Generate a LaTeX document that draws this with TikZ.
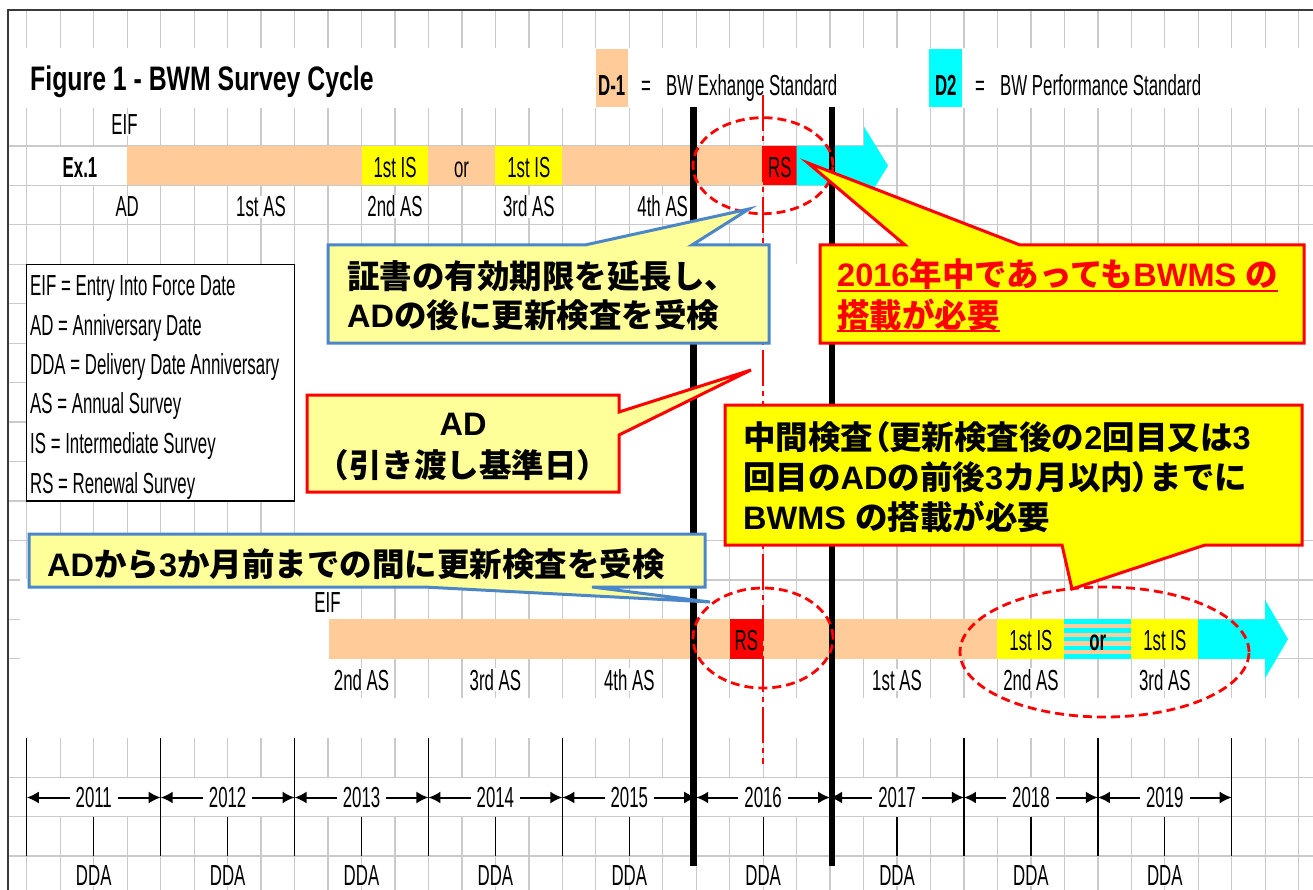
\documentclass[tikz,border=0pt]{standalone}
\usepackage{fontspec}
\usetikzlibrary{arrows.meta}
\newfontfamily\narfont{Liberation Sans}[FakeStretch=0.58]
\newfontfamily\ttlfont{Liberation Sans}[FakeStretch=0.73]
\newfontfamily\latfont{Liberation Sans}
\newfontfamily\cjkfont{Noto Sans CJK JP}
\newfontfamily\cjkpfont{Noto Sans CJK JP}[RawFeature=+palt]
\newcommand\jp[1]{{\cjkfont\bfseries #1}}
\newcommand\jpp[1]{{\cjkpfont\bfseries #1}}
\definecolor{peach}{HTML}{FFCC99}
\definecolor{lyel}{HTML}{FFFF99}
\definecolor{cyanb}{RGB}{0,255,255}
\definecolor{yelb}{RGB}{255,255,0}
\definecolor{redb}{RGB}{255,0,0}
\definecolor{calblue}{HTML}{4A86C8}
\definecolor{gridc}{HTML}{CACACA}
\definecolor{framec}{HTML}{3A3A3A}
\tikzset{
 gridln/.style={gridc, line width=1.3pt},
 nar/.style={font=\narfont\fontsize{29}{34}\selectfont, inner sep=0pt},
 narb/.style={font=\narfont\bfseries\fontsize{29}{34}\selectfont, inner sep=0pt},
 lab/.style={nar, anchor=base, fill=white, inner xsep=1.5pt, inner ysep=1pt},
 bartxt/.style={nar, anchor=base},
 bartxtb/.style={narb, anchor=base},
 legtxt/.style={nar, anchor=base west},
 jtext/.style={font=\latfont\bfseries\fontsize{32.5}{38}\selectfont, inner sep=0pt, anchor=base west},
 thinblack/.style={black, line width=1.3pt},
 thickblack/.style={black, line width=6.5pt},
 yeararrow/.style={black, line width=2pt, {Latex[length=12pt,width=12pt]}-{Latex[length=12pt,width=12pt]}},
 yearlab/.style={nar, fill=white, inner xsep=6pt, inner ysep=1pt},
 ell/.style={redb, line width=2.8pt, dash pattern=on 9pt off 5pt},
 adline/.style={redb, line width=2pt, dash pattern=on 36pt off 5pt on 5pt off 5pt},
 bluecall/.style={draw=calblue, fill=lyel, line width=3pt},
 redcall/.style={draw=redb, fill=lyel, line width=3pt},
 yelcall/.style={draw=redb, fill=yelb, line width=3pt},
}
\begin{document}
\begin{tikzpicture}[x=1pt,y=-1pt]
\useasboundingbox (0,0) rectangle (1313,890);
\fill[white] (0,0) rectangle (1313,890);
% ---------- grid ----------
\foreach \kk in {0,...,38} \draw[gridln] ({26.8+33.47*\kk},10) -- ({26.8+33.47*\kk},890);
\foreach \rr in {0,...,19} \draw[gridln] (8,{106.5+39.45*\rr}) -- (1313,{106.5+39.45*\rr});
% white (unlined) areas
\fill[white] (8,48.5) rectangle (1313,107.6);
\fill[white] (295.3,263.6) rectangle (1313,539.7);
\fill[white] (20,579.2) rectangle (329,698.9);
\fill[white] (9,697.5) rectangle (1313,738.4);
\fill[white] (26,777.9) rectangle (1232.4,815.9);
\fill[white] (60.3,146.6) rectangle (127.2,184.7);
% frame
\draw[framec, line width=2pt] (7,10) -- (1313,10);
\draw[framec, line width=2pt] (8,9) -- (8,890);
% ---------- title and key ----------
\node[anchor=base west, font=\ttlfont\bfseries\fontsize{34}{40}\selectfont, inner sep=0pt] (title) at (30,91) {Figure 1 - BWM Survey Cycle};
\fill[peach] (595.7,49.3) rectangle (627.7,106.7);
\node[bartxtb] (d1) at (611.7,96) {D-1};
\node[bartxt] (d1eq) at (646,96) {=};
\node[legtxt] (d1txt) at (666,96) {BW Exhange Standard};
\fill[cyanb] (929.3,49.3) rectangle (962.3,106.7);
\node[bartxtb] (d2) at (945.8,96) {D2};
\node[bartxt] (d2eq) at (980,96) {=};
\node[legtxt] (d2txt) at (1000,96) {BW Performance Standard};
% legend box
\draw[black, line width=1.3pt, fill=white] (26.8,264.3) rectangle (294.6,501);
\node[legtxt] (lg1) at (30,295) {EIF = Entry Into Force Date};
\node[legtxt] (lg2) at (30,335) {AD = Anniversary Date};
\node[legtxt] (lg3) at (30,374.5) {DDA = Delivery Date Anniversary};
\node[legtxt] (lg4) at (30,413.5) {AS = Annual Survey};
\node[legtxt] (lg5) at (30,453) {IS = Intermediate Survey};
\node[legtxt] (lg6) at (30,493) {RS = Renewal Survey};
% ---------- Ex.1 bar ----------
\node[bartxtb] (ex1) at (80,178) {Ex.1};
\node[lab] (eif1) at (124.5,135) {EIF};
\fill[peach] (127.2,145.95) rectangle (763.1,185.4);
\fill[yelb] (361.5,145.95) rectangle (428.4,185.4);
\fill[yelb] (495.4,145.95) rectangle (562.3,185.4);
\fill[redb] (763.1,145.95) rectangle (796.6,185.4);
\fill[cyanb] (796.6,145.95) -- (864,145.95) -- (864,126.7) -- (888,165.7) -- (864,204.7) -- (864,185.4) -- (796.6,185.4) -- cycle;
\node[bartxt] (is1) at (395,178) {1st IS};
\node[bartxt] (or1) at (461.5,178) {or};
\node[bartxt] (is2) at (528.8,178) {1st IS};
\node[bartxt] (rs1) at (779.8,178) {RS};
\node[lab] (t-ad) at (127.2,217) {AD};
\node[lab] (t-as1) at (261,217) {1st AS};
\node[lab] (t-as2) at (395,217) {2nd AS};
\node[lab] (t-as3) at (528.8,217) {3rd AS};
\node[lab] (t-as4) at (662.7,217) {4th AS};
% ---------- second bar ----------
\node[lab] (eif2) at (327.5,612) {EIF};
\fill[peach] (329,619.35) rectangle (997.4,658.8);
\fill[redb] (729.6,619.35) rectangle (763.1,658.8);
\fill[yelb] (997.4,619.35) rectangle (1064.4,658.8);
\fill[peach] (1064.4,619.35) rectangle (1131.3,658.8);
\foreach \ii in {0,2,4,6,8} \fill[cyanb] (1064.4,{619.35+4.383*\ii}) rectangle (1131.3,{619.35+4.383*(\ii+1)});
\fill[yelb] (1131.3,619.35) rectangle (1198.2,658.8);
\fill[cyanb] (1198.2,619.35) -- (1265.1,619.35) -- (1265.1,600) -- (1288,639.1) -- (1265.1,678.2) -- (1265.1,658.8) -- (1198.2,658.8) -- cycle;
\node[bartxt] (rs2) at (746.3,650) {RS};
\node[bartxt] (is3) at (1030.9,650) {1st IS};
\node[bartxtb] (or2) at (1097.8,650) {or};
\node[bartxt] (is4) at (1164.8,650) {1st IS};
\node[lab] (b-as2) at (361.5,690) {2nd AS};
\node[lab] (b-as3) at (495.4,690) {3rd AS};
\node[lab] (b-as4) at (629.3,690) {4th AS};
\node[lab] (b-as1) at (897,690) {1st AS};
\node[lab] (b-as2b) at (1030.9,690) {2nd AS};
\node[lab] (b-as3b) at (1164.8,690) {3rd AS};
% ---------- year scale ----------
\foreach \jj in {0,...,9} {
  \draw[thinblack] ({26.8+133.88*\jj},737.7) -- ({26.8+133.88*\jj},856);
  \coordinate (b\jj) at ({26.8+133.88*\jj},797.5);
}
\foreach \jj in {0,...,8} {
  \draw[thinblack] ({93.74+133.88*\jj},816.6) -- ({93.74+133.88*\jj},856);
  \node[lab, inner ysep=0pt] (dda\jj) at ({93.74+133.88*\jj},885.5) {DDA};
}
\foreach \ja/\jb/\yr in {0/1/2011,1/2/2012,2/3/2013,3/4/2014,4/5/2015,5/6/2016,6/7/2017,7/8/2018,8/9/2019}
  \draw[yeararrow] (b\ja) -- node[yearlab] (yr\yr) {\yr} (b\jb);
% ---------- thick lines and AD line ----------
\coordinate (k1t) at (693.3,107); \coordinate (k1b) at (693.3,866);
\coordinate (k2t) at (832.2,107); \coordinate (k2b) at (832.2,866);
\draw[thickblack] (k1t) -- (k1b);
\draw[thickblack] (k2t) -- (k2b);
\coordinate (adt) at (763.1,95); \coordinate (adb) at (763.1,764);
\draw[adline] (adt) -- (adb);
% ---------- dashed ellipses ----------
\draw[ell] (763,165.7) ellipse [x radius=70pt, y radius=48pt];
\draw[ell] (763,638) ellipse [x radius=70pt, y radius=50pt];
\draw[ell] (1104.5,652) ellipse [x radius=144.5pt, y radius=65pt];
% ---------- callouts ----------
\draw[bluecall] (328,245) -- (585,245) -- (749,209) -- (692,245) -- (769,245) -- (769,343) -- (328,343) -- cycle;
\node[jtext] (c1a) at (347,289) {\jp{証書の有効期限を延長し、}};
\node[jtext] (c1b) at (347,327) {AD\jp{の後に更新検査を受検}};
\draw[redcall] (307,395) -- (619,395) -- (619,412) -- (751,370) -- (619,435) -- (619,492) -- (307,492) -- cycle;
\node[jtext, anchor=base] (c2a) at (463,435) {AD};
\node[jtext, anchor=base] (c2b) at (463,477) {\jp{（引き渡し基準日）}};
\draw[yelcall] (820,245) -- (905,245) -- (808,163) -- (1020,245) -- (1304,245) -- (1304,343) -- (820,343) -- cycle;
\node[jtext, text=redb] (c3a) at (837,287) {2016\jp{年中であっても}BWMS \jp{の}};
\node[jtext, text=redb] (c3b) at (837,327) {\jp{搭載が必要}};
\draw[redb, line width=2.2pt] ([yshift=-4pt]c3a.base west) -- ([yshift=-4pt]c3a.base east);
\draw[redb, line width=2.2pt] ([yshift=-4pt]c3b.base west) -- ([yshift=-4pt]c3b.base east);
\draw[yelcall] (725,405) -- (1302,405) -- (1302,545) -- (1205,545) -- (1072,589) -- (1062,545) -- (725,545) -- cycle;
\node[jtext] (c4a) at (743,449) {\jp{中間検査}\jpp{（}\jp{更新検査後の}2\jp{回目又は}3};
\node[jtext] (c4b) at (743,489) {\jp{回目の}AD\jp{の前後}3\jp{カ月以内}\jpp{）}\jp{までに}};
\node[jtext] (c4c) at (743,529) {BWMS \jp{の搭載が必要}};
\draw[bluecall] (29,534) -- (705,534) -- (705,587) -- (592,587) -- (710,602) -- (424,587) -- (29,587) -- cycle;
\node[jtext] (c5) at (47,576) {AD\jp{から}3\jp{か月前までの間に更新検査を受検}};
\end{tikzpicture}
\end{document}
